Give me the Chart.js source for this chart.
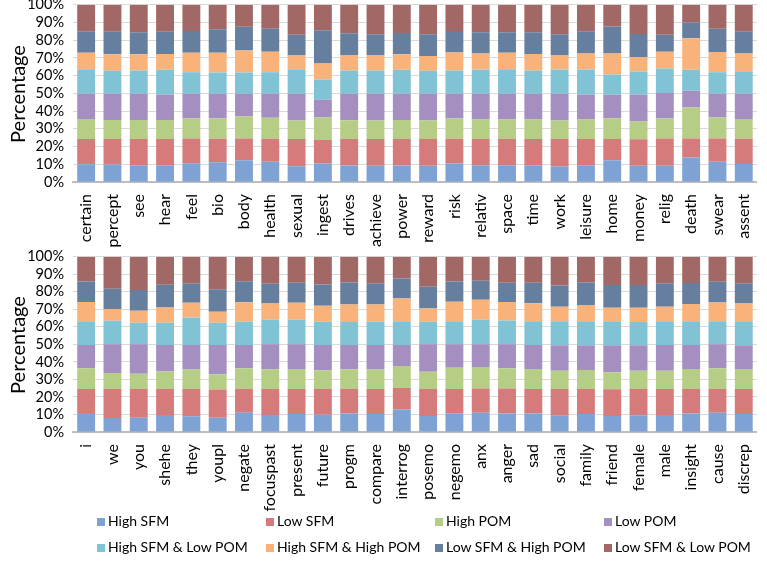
<!DOCTYPE html>
<html lang="en">
<head>
  <meta charset="UTF-8" />
  <title>SFM / POM percentages by category</title>
  <script src="https://cdn.jsdelivr.net/npm/chart.js"></script>
  <style>
    body { margin: 0; background: #fff; font-family: 'Lato', sans-serif; }
    .wrap { position: absolute; left: 0; width: 767px; }
    #topWrap { top: -13px; height: 263px; }
    #botWrap { top: 239px; height: 283px; }
    .ytitle {
      position: absolute; left: 17px; font-size: 20px; color: #000;
      transform: translate(-50%, -50%) rotate(-90deg); white-space: nowrap;
    }
    #legend {
      position: absolute; top: 512px; left: 97px;
      display: grid; grid-template-columns: repeat(4, 169px); row-gap: 9px;
      font-size: 14px; color: #000;
    }
    #legend span.box { display: inline-block; width: 8px; height: 8px; margin-right: 3px; }
  </style>
</head>
<body>
  <div class="wrap" id="topWrap"><canvas id="chartTop"></canvas></div>
  <div class="wrap" id="botWrap"><canvas id="chartBot"></canvas></div>
  <div class="ytitle" style="top: 94px;">Percentage</div>
  <div class="ytitle" style="top: 345px;">Percentage</div>
  <div id="legend"></div>

  <script>
    const seriesNames = ["High SFM", "Low SFM", "High POM", "Low POM",
      "High SFM & Low POM", "High SFM & High POM", "Low SFM & High POM", "Low SFM & Low POM"];
    const colors = ['#7ea2d4', '#d57b7b', '#b6cd86', '#a48fc0', '#80c3d5', '#f9b27a', '#667f9f', '#a26866'];

    // top panel
    const topCats = ["certain", "percept", "see", "hear", "feel", "bio", "body", "health", "sexual", "ingest",
      "drives", "achieve", "power", "reward", "risk", "relativ", "space", "time", "work", "leisure",
      "home", "money", "relig", "death", "swear", "assent"];
    const topHighSFM = [10.0, 9.8, 9.5, 9.5, 10.6, 11.2, 12.3, 11.4, 8.9, 10.4, 9.3, 9.1, 9.3, 9.1, 10.4, 9.5, 9.5, 9.5, 8.7, 9.5, 12.3, 9.1, 9.1, 13.8, 11.4, 10.2];
    const topLowSFM = [14.2, 14.4, 14.7, 14.7, 14.0, 13.2, 12.3, 13.0, 15.3, 13.3, 14.9, 15.1, 14.9, 15.1, 14.0, 14.7, 14.7, 14.7, 15.5, 14.7, 11.9, 15.0, 15.5, 10.8, 13.2, 14.2];
    const topHighPOM = [11.4, 10.8, 10.8, 10.8, 11.2, 11.4, 12.3, 11.8, 10.5, 12.7, 10.6, 10.5, 10.8, 10.5, 11.4, 11.0, 11.0, 11.0, 10.5, 11.0, 11.8, 10.0, 11.2, 17.4, 11.8, 11.2];
    const topLowPOM = [14.2, 14.8, 14.8, 14.4, 14.0, 14.0, 12.9, 13.6, 15.1, 10.0, 15.0, 15.1, 14.8, 15.1, 14.0, 14.6, 14.6, 14.6, 15.1, 14.2, 13.2, 15.3, 14.4, 9.5, 13.4, 14.2];
    const topHSLP = [13.3, 12.9, 13.1, 13.9, 12.1, 11.9, 11.9, 12.1, 13.3, 11.4, 13.1, 13.1, 13.5, 12.9, 13.1, 13.6, 13.8, 13.1, 13.6, 14.0, 11.4, 12.9, 13.8, 11.8, 12.1, 12.7];
    const topHSHP = [9.8, 9.3, 9.1, 8.9, 11.0, 11.2, 12.5, 11.6, 8.3, 9.1, 8.7, 8.7, 8.7, 8.3, 10.2, 9.1, 9.3, 9.3, 8.0, 9.1, 11.9, 8.0, 9.5, 17.8, 11.4, 10.0];
    const topLSHP = [12.1, 12.7, 12.5, 12.5, 12.3, 13.3, 13.3, 12.9, 11.6, 18.7, 12.3, 11.7, 12.1, 12.3, 12.1, 12.0, 11.6, 12.3, 11.9, 12.5, 15.2, 13.2, 9.5, 8.9, 13.1, 12.5];
    const topLSLP = [15.0, 15.3, 15.5, 15.3, 14.8, 13.8, 12.5, 13.6, 17.0, 14.4, 16.1, 16.7, 15.9, 16.7, 14.8, 15.5, 15.5, 15.5, 16.7, 15.0, 12.3, 16.5, 17.0, 10.0, 13.6, 15.0];

    // bottom panel
    const botCats = ["i", "we", "you", "shehe", "they", "youpl", "negate", "focuspast", "present", "future",
      "progm", "compare", "interrog", "posemo", "negemo", "anx", "anger", "sad", "social", "family",
      "friend", "female", "male", "insight", "cause", "discrep"];
    const botHighSFM = [10.9, 8.0, 8.2, 9.7, 9.0, 8.2, 11.0, 9.7, 10.3, 9.9, 10.5, 10.3, 12.8, 9.1, 10.7, 11.0, 10.5, 10.5, 9.3, 10.3, 9.1, 9.5, 9.7, 10.5, 11.0, 10.3];
    const botLowSFM = [13.7, 16.6, 16.4, 14.9, 15.6, 16.0, 13.6, 14.9, 14.3, 14.7, 14.1, 14.3, 12.3, 15.5, 13.9, 13.8, 14.3, 14.1, 15.3, 14.3, 15.3, 15.1, 14.9, 14.1, 13.6, 14.3];
    const botHighPOM = [11.8, 9.1, 8.7, 9.9, 11.0, 8.8, 11.7, 11.2, 11.4, 10.6, 11.2, 11.0, 12.6, 9.7, 12.0, 12.3, 11.6, 11.4, 10.3, 10.8, 9.7, 10.3, 10.4, 11.4, 11.8, 11.4];
    const botLowPOM = [13.3, 16.4, 16.8, 15.2, 14.1, 16.7, 13.4, 14.3, 14.1, 14.5, 13.9, 14.1, 12.0, 15.8, 13.5, 13.0, 13.7, 13.7, 14.6, 14.1, 15.4, 14.6, 14.7, 13.7, 13.7, 13.5];
    const botHSLP = [13.5, 13.3, 12.2, 12.6, 15.6, 12.6, 13.3, 13.9, 13.9, 13.2, 13.0, 13.3, 13.5, 12.8, 13.1, 13.9, 13.5, 13.5, 13.7, 13.7, 13.7, 13.2, 13.0, 13.5, 13.1, 13.7];
    const botHSHP = [10.9, 6.7, 6.8, 8.7, 8.4, 6.3, 11.0, 9.3, 9.7, 9.1, 10.1, 9.8, 13.0, 7.6, 11.1, 11.4, 10.5, 10.3, 8.2, 9.2, 7.7, 8.2, 8.7, 9.8, 10.7, 10.1];
    const botLSHP = [11.8, 11.6, 11.9, 13.0, 11.1, 12.9, 12.0, 11.3, 11.4, 12.2, 12.5, 12.0, 11.4, 12.4, 11.6, 10.9, 11.0, 11.6, 12.2, 12.9, 12.9, 12.9, 13.4, 12.0, 11.8, 11.5];
    const botLSLP = [14.1, 18.3, 19.0, 16.0, 15.2, 18.5, 14.0, 15.4, 14.9, 15.8, 14.7, 15.2, 12.4, 17.1, 14.1, 13.7, 14.9, 14.9, 16.4, 14.7, 16.2, 16.2, 15.2, 15.0, 14.3, 15.2];

    const fontFam = "'Lato', sans-serif";

    function makeChart(id, cats, seriesData, xHeight) {
      return new Chart(document.getElementById(id), {
        type: "bar",
        data: {
          labels: cats,
          datasets: seriesData.map((d, i) => ({
            label: seriesNames[i],
            data: d,
            backgroundColor: colors[i],
            borderWidth: 0,
            categoryPercentage: 1,
            barPercentage: 0.68,
          })),
        },
        options: {
          responsive: true,
          maintainAspectRatio: false,
          animation: false,
          layout: { padding: { top: 0, right: 2, left: 0, bottom: 0 } },
          plugins: {
            legend: { display: false },
            tooltip: { enabled: false },
          },
          scales: {
            x: {
              stacked: true,
              afterFit: (s) => { s.height = xHeight; },
              grid: { display: false },
              border: { color: '#bdbdbd', width: 2 },
              ticks: {
                color: '#000',
                font: { family: fontFam, size: 16 },
                minRotation: 90,
                maxRotation: 90,
                autoSkip: false,
                padding: 4,
              },
            },
            y: {
              stacked: true,
              min: 0,
              max: 100,
              afterFit: (s) => { s.width = 73; },
              border: { display: false },
              grid: { color: '#d9d9d9', drawTicks: false },
              ticks: {
                stepSize: 10,
                autoSkip: false,
                color: '#000',
                font: { family: fontFam, size: 14.5 },
                padding: 9,
                callback: (v) => v + '%',
              },
            },
          },
        },
      });
    }

    makeChart("chartTop", topCats, [topHighSFM, topLowSFM, topHighPOM, topLowPOM, topHSLP, topHSHP, topLSHP, topLSLP], 68);
    makeChart("chartBot", botCats, [botHighSFM, botLowSFM, botHighPOM, botLowPOM, botHSLP, botHSHP, botLSHP, botLSLP], 90);

    // legend
    const legendDiv = document.getElementById("legend");
    seriesNames.forEach((name, i) => {
      const item = document.createElement("div");
      item.innerHTML = `<span class="box" style="background:${colors[i]}"></span>${name}`;
      legendDiv.appendChild(item);
    });
  </script>
</body>
</html>
